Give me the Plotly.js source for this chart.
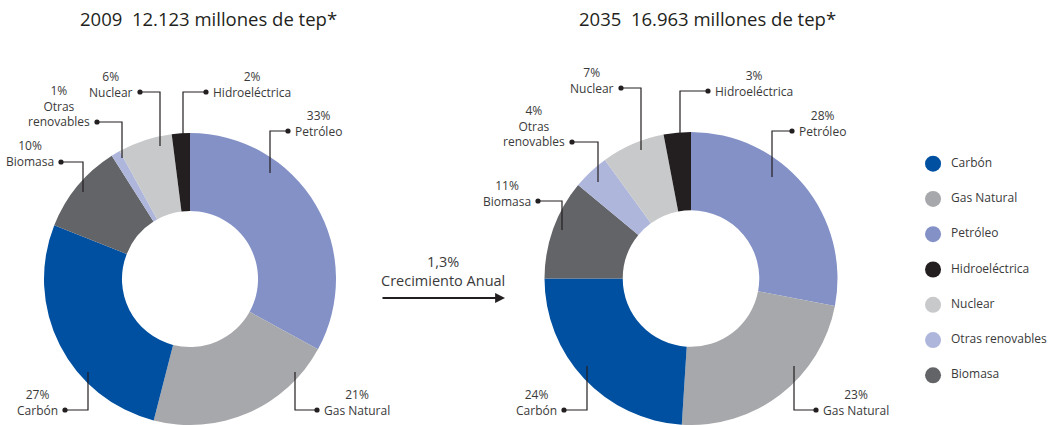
<!DOCTYPE html>
<html>
<head>
<meta charset="utf-8">
<script src="https://cdn.plot.ly/plotly-3.0.1.min.js"></script>
<style>html,body{margin:0;padding:0;background:#fff;}#chart{width:1053px;height:425px;}</style>
</head>
<body>
<div id="chart"></div>
<script>
// ---- data ----
const categories = ['Petróleo', 'Gas Natural', 'Carbón', 'Biomasa', 'Otras renovables', 'Nuclear', 'Hidroeléctrica'];
const labelNames = ['Petróleo', 'Gas Natural', 'Carbón', 'Biomasa', 'Otras<br>renovables', 'Nuclear', 'Hidroeléctrica'];
const shares2009 = [33, 21, 27, 10, 1, 6, 2];
const shares2035 = [28, 23, 24, 11, 4, 7, 3];
const title2009 = '2009  12.123 millones de tep*';
const title2035 = '2035  16.963 millones de tep*';
const growthText = '1,3%<br>Crecimiento Anual';
const legendOrder = ['Carbón', 'Gas Natural', 'Petróleo', 'Hidroeléctrica', 'Nuclear', 'Otras renovables', 'Biomasa'];

// ---- styles / layout ----
const colorMap = {
  'Carbón': '#0050a1',
  'Gas Natural': '#a7a8ab',
  'Petróleo': '#8391c7',
  'Hidroeléctrica': '#231f20',
  'Nuclear': '#c8c9cb',
  'Otras renovables': '#aeb6dc',
  'Biomasa': '#636467'
};
const W = 1053, H = 425;
const FONT = 'Open Sans, Noto Sans, sans-serif';
const TXT = '#3a3a3a';
const px = x => x / W;
const py = y => 1 - y / H;

// callout geometry in pixels: [lineStartX, lineStartY, elbowY, dotX, side]
const callouts2009 = [
  [270, 173, 131, 288, 'r'],
  [295, 372, 410, 317, 'r'],
  [88, 372, 410, 65, 'l'],
  [83, 192, 162, 61, 'l'],
  [122, 158, 122, 97, 'l'],
  [160, 146, 92, 140, 'l'],
  [183, 134, 92, 206, 'r']
];
const callouts2035 = [
  [772, 177, 131, 792, 'r'],
  [794, 366, 410, 816, 'r'],
  [587, 366, 410, 564, 'l'],
  [562, 230, 201, 538, 'l'],
  [598, 182, 142, 572, 'l'],
  [641, 150, 88, 621, 'l'],
  [680, 134, 91, 708, 'r']
];

function pieTrace(values, cx, cy, r) {
  return {
    type: 'pie',
    labels: categories,
    values: values,
    sort: false,
    direction: 'clockwise',
    rotation: 0,
    hole: 0.466,
    textinfo: 'none',
    hoverinfo: 'label+percent',
    showlegend: false,
    marker: { colors: categories.map(c => colorMap[c]), line: { width: 0 } },
    domain: { x: [px(cx - r), px(cx + r)], y: [py(cy + r), py(cy - r)] }
  };
}

const shapes = [];
const annotations = [];
function addCallouts(values, geo) {
  values.forEach((v, i) => {
    const [x0, y0, y1, x2, side] = geo[i];
    shapes.push({
      type: 'path', xref: 'paper', yref: 'paper',
      path: `M ${px(x0)} ${py(y0)} L ${px(x0)} ${py(y1)} L ${px(x2)} ${py(y1)}`,
      line: { color: '#231f20', width: 1.2 }
    });
    const rr = 2.6;
    shapes.push({
      type: 'circle', xref: 'paper', yref: 'paper',
      x0: px(x2 - rr), x1: px(x2 + rr), y0: py(y1 + rr), y1: py(y1 - rr),
      fillcolor: '#231f20', line: { width: 0 }
    });
    const text = v + '%<br>' + labelNames[i];
    const nLines = text.split('<br>').length;
    const lineH = 16;
    const centerY = y1 - (nLines - 1) * lineH / 2;
    annotations.push({
      xref: 'paper', yref: 'paper',
      x: px(x2), y: py(centerY),
      xanchor: side === 'r' ? 'left' : 'right',
      yanchor: 'middle',
      xshift: side === 'r' ? 5 : -5,
      text: text, showarrow: false, align: 'center',
      font: { family: FONT, size: 12, color: TXT }
    });
  });
}
addCallouts(shares2009, callouts2009);
addCallouts(shares2035, callouts2035);

// titles
annotations.push({ xref: 'paper', yref: 'paper', x: px(208), y: py(19), xanchor: 'center', yanchor: 'middle',
  text: title2009, showarrow: false, font: { family: FONT, size: 18.5, color: '#231f20' } });
annotations.push({ xref: 'paper', yref: 'paper', x: px(707), y: py(19), xanchor: 'center', yanchor: 'middle',
  text: title2035, showarrow: false, font: { family: FONT, size: 18.5, color: '#231f20' } });

// growth text + arrow
annotations.push({ xref: 'paper', yref: 'paper', x: px(443), y: py(271), xanchor: 'center', yanchor: 'middle',
  text: growthText, showarrow: false, align: 'center', font: { family: FONT, size: 14.5, color: TXT } });
annotations.push({ xref: 'paper', yref: 'paper', x: px(505), y: py(298), axref: 'pixel', ayref: 'pixel',
  ax: -124, ay: 0, text: '', showarrow: true, arrowhead: 2, arrowsize: 1.1, arrowwidth: 1.8,
  arrowcolor: '#231f20', standoff: 0, startstandoff: 0 });

// legend as markers + labels on hidden axes
const legendMarkers = {
  type: 'scatter', mode: 'markers',
  x: legendOrder.map(() => 0),
  y: legendOrder,
  marker: { size: 16, color: legendOrder.map(c => colorMap[c]) },
  hoverinfo: 'skip', showlegend: false, cliponaxis: false
};
const legendLabels = {
  type: 'scatter', mode: 'text',
  x: legendOrder.map(() => 18),
  y: legendOrder,
  text: legendOrder,
  textposition: 'middle right',
  textfont: { family: FONT, size: 12, color: TXT },
  hoverinfo: 'skip', showlegend: false, cliponaxis: false
};

const layout = {
  width: W, height: H,
  margin: { l: 0, r: 0, t: 0, b: 0 },
  paper_bgcolor: '#fff', plot_bgcolor: 'rgba(0,0,0,0)',
  showlegend: false,
  xaxis: { domain: [0.85, 1], range: [-38, 120], visible: false, fixedrange: true },
  yaxis: { domain: [py(393), py(146)], type: 'category', range: [6.5, -0.5], visible: false, fixedrange: true },
  shapes: shapes,
  annotations: annotations
};

Plotly.newPlot('chart', [
  pieTrace(shares2009, 190, 279, 146),
  pieTrace(shares2035, 691, 279, 147),
  legendMarkers,
  legendLabels
], layout, { displayModeBar: false, staticPlot: true });
</script>
</body>
</html>
